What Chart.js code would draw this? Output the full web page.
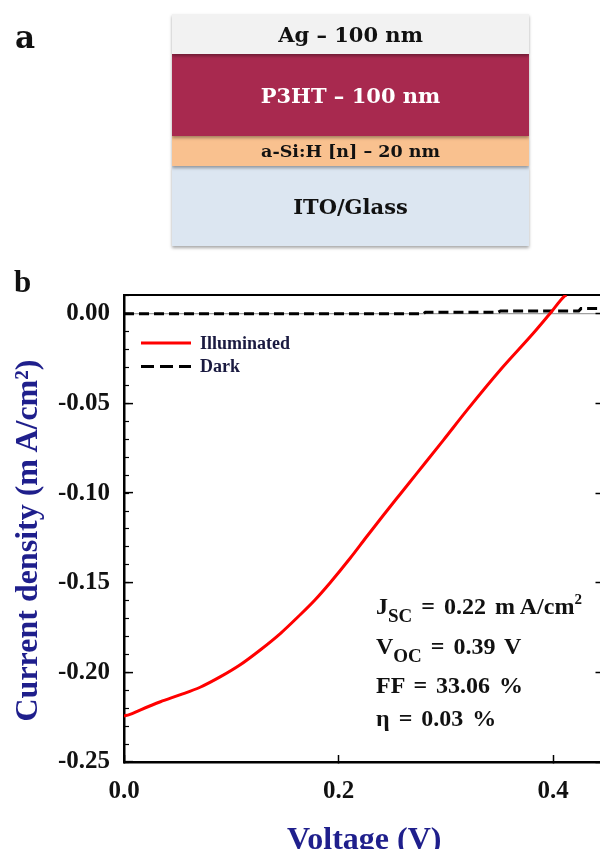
<!DOCTYPE html>
<html>
<head>
<meta charset="utf-8">
<script src="https://cdn.jsdelivr.net/npm/chart.js@4.4.0/dist/chart.umd.min.js"></script>
<style>
  html, body { margin:0; padding:0; background:#fff; width:600px; height:849px; overflow:hidden; }
  #page { position:absolute; left:0; top:0; width:600px; height:849px; overflow:hidden; }
  #c { position:absolute; left:0; top:0; }
  .panel { position:absolute; font-family:"Liberation Serif", serif; font-weight:bold; color:#111; }
  #labA { left:15px; top:22px; font-family:"DejaVu Serif", serif; font-size:31px; line-height:1; }
  #labB { left:14px; top:266px; font-size:31px; line-height:1; }
  .stack { position:absolute; left:172px; top:14px; width:357px; }
  .layer { position:relative; display:flex; align-items:center; justify-content:center;
           font-family:"DejaVu Serif", serif; font-weight:bold; box-shadow:0 2px 3px rgba(0,0,0,0.35); }
  #ag   { height:40px; background:#f2f2f2; color:#111; font-size:21px; z-index:4; }
  #p3ht { height:82px; background:#a8294f; color:#fff; font-size:21px; z-index:3; }
  #asi  { height:30px; background:#f9c18f; color:#111; font-size:17.5px; z-index:2; }
  #ito  { height:80px; background:#dce6f1; color:#111; font-size:21px; z-index:1; }
  .ann { position:absolute; left:376px; font-family:"Liberation Serif", serif; font-weight:bold;
         font-size:24px; line-height:1; color:#111; white-space:nowrap; word-spacing:3px; }
  .sub { position:relative; top:8px; font-size:19px; }
  .sup { position:relative; top:-10px; font-size:15px; }
</style>
</head>
<body>
<div id="page">
  <canvas id="c" width="612" height="870" style="width:612px;height:870px"></canvas>
  <div class="panel" id="labA">a</div>
  <div class="stack">
    <div class="layer" id="ag">Ag – 100 nm</div>
    <div class="layer" id="p3ht">P3HT – 100 nm</div>
    <div class="layer" id="asi">a-Si:H [n] – 20 nm</div>
    <div class="layer" id="ito">ITO/Glass</div>
  </div>
  <div class="panel" id="labB">b</div>
  <div class="ann" style="top:594px">J<span class="sub">SC</span> = 0.22 m&#8201;A/cm<span class="sup">2</span></div>
  <div class="ann" style="top:634px">V<span class="sub">OC</span> = 0.39 V</div>
  <div class="ann" style="top:673px">FF = 33.06 %</div>
  <div class="ann" style="top:706px">η = 0.03 %</div>
</div>
<script>
// ---- data ----
const voltIllum = [0.000, 0.005, 0.015, 0.034, 0.052, 0.071, 0.090, 0.108, 0.127, 0.146, 0.164, 0.178, 0.192, 0.211, 0.226, 0.242, 0.258, 0.273, 0.298, 0.320, 0.351, 0.382, 0.397, 0.411, 0.4125];
const jIllum    = [-0.2243, -0.2236, -0.2210, -0.2164, -0.2126, -0.2083, -0.2024, -0.1959, -0.1875, -0.1782, -0.1680, -0.1596, -0.1501, -0.1362, -0.1245, -0.1122, -0.1002, -0.0890, -0.0703, -0.0536, -0.0312, -0.0106, 0.0000, 0.0100, 0.0105];
const voltDark  = [0.000, 0.100, 0.200, 0.279, 0.281, 0.349, 0.351, 0.424, 0.426, 0.448];
const jDark     = [0.0000, 0.0000, 0.0000, 0.0000, 0.0009, 0.0009, 0.0016, 0.0016, 0.0029, 0.0029];
const seriesLabels = ['Illuminated', 'Dark'];
const xTickValues = [0.0, 0.2, 0.4];
const yTickValues = [-0.25, -0.20, -0.15, -0.10, -0.05, 0.00];

const toPoints = (xs, ys) => xs.map((x, i) => ({x: x, y: ys[i]}));

const X_MIN = 0, X_MAX = 0.448, Y_MIN = -0.25, Y_MAX = 0.0105;
const NAVY = '#1f1f8c';
const TICK_FONT = {family: '"Liberation Serif", serif', weight: 'bold', size: 25};

const insideLegend = {
  id: 'insideLegend',
  afterDatasetsDraw(chart, args, o) {
    const {ctx, chartArea} = chart;
    ctx.save();
    chart.data.datasets.forEach((ds, i) => {
      const y = chartArea.top + o.top + i * o.rowGap;
      const x = chartArea.left + o.left;
      ctx.beginPath();
      ctx.setLineDash(o.dashes[i] || []);
      ctx.strokeStyle = ds.borderColor;
      ctx.lineWidth = ds.borderWidth;
      ctx.moveTo(x, y);
      ctx.lineTo(x + o.lineLen, y);
      ctx.stroke();
      ctx.setLineDash([]);
      ctx.font = o.font;
      ctx.fillStyle = o.color;
      ctx.textBaseline = 'middle';
      ctx.textAlign = 'left';
      ctx.fillText(ds.label, x + o.lineLen + o.gap, y + 1);
    });
    ctx.restore();
  }
};

new Chart(document.getElementById('c'), {
  type: 'line',
  data: {
    datasets: [
      { label: seriesLabels[0], data: toPoints(voltIllum, jIllum), borderColor: '#ff0000', borderWidth: 3,
        pointRadius: 0, fill: false, cubicInterpolationMode: 'monotone', xAxisID: 'x', yAxisID: 'y' },
      { label: seriesLabels[1], data: toPoints(voltDark, jDark), borderColor: '#000000', borderWidth: 3,
        borderDash: [10, 5], pointRadius: 0, fill: false, tension: 0, xAxisID: 'x', yAxisID: 'y' }
    ]
  },
  options: {
    responsive: false,
    devicePixelRatio: 1,
    animation: false,
    layout: { padding: 0 },
    plugins: {
      legend: { display: false },
      tooltip: { enabled: false },
      insideLegend: { top: 48, left: 17, rowGap: 23.5, lineLen: 50, gap: 9, dashes: [[], [13, 6]],
                      font: 'bold 18px "Liberation Serif", serif', color: '#1a1a40' }
    },
    scales: {
      x: {
        type: 'linear', position: 'bottom', min: X_MIN, max: X_MAX,
        afterBuildTicks: s => { s.ticks = xTickValues.map(v => ({value: v})); },
        ticks: { callback: v => Number(v).toFixed(1), font: TICK_FONT, color: '#111', padding: 22, maxRotation: 0 },
        grid: { drawOnChartArea: false, drawTicks: true, tickLength: -7, tickColor: '#000', tickWidth: 1.5 },
        border: { display: true, color: '#000', width: 2.5 },
        title: { display: true, text: 'Voltage (V)', color: NAVY, padding: { top: 0, bottom: 10 },
                 font: { family: '"Liberation Serif", serif', weight: 'bold', size: 32 } },
        afterFit: s => { s.height = 108; }
      },
      xTop: {
        type: 'linear', position: 'top', min: X_MIN, max: X_MAX,
        ticks: { display: false },
        grid: { drawOnChartArea: false, drawTicks: false },
        border: { display: true, color: '#000', width: 2 },
        afterFit: s => { s.height = 295; }
      },
      y: {
        type: 'linear', position: 'left', weight: 1, min: Y_MIN, max: Y_MAX,
        afterBuildTicks: s => { s.ticks = yTickValues.map(v => ({value: v})); },
        ticks: { callback: v => Number(v).toFixed(2), font: TICK_FONT, color: '#111', padding: 23 },
        grid: { drawOnChartArea: true, drawTicks: true, tickLength: -9, tickColor: '#000', tickWidth: 1.5,
                color: c => (c.tick && Math.abs(c.tick.value) < 1e-9) ? '#a0a0a0' : 'rgba(0,0,0,0)', lineWidth: 1.2 },
        border: { display: true, color: '#000', width: 2.5 },
        title: { display: true, text: 'Current density (m\u2009A/cm\u00B2)   ', color: NAVY, padding: { top: 10, bottom: 0 },
                 font: { family: '"Liberation Serif", serif', weight: 'bold', size: 32 } },
        afterFit: s => { s.width = 124; }
      },
      yMinor: {
        type: 'linear', position: 'left', weight: 0, min: Y_MIN, max: Y_MAX,
        ticks: { display: false, stepSize: 0.01, includeBounds: false },
        grid: { drawOnChartArea: false, drawTicks: true, tickLength: -5, tickColor: '#000', tickWidth: 1.2 },
        border: { display: false },
        afterFit: s => { s.width = 0; }
      },
      yRight: {
        type: 'linear', position: 'right', min: Y_MIN, max: Y_MAX,
        afterBuildTicks: s => { s.ticks = yTickValues.map(v => ({value: v})); },
        ticks: { display: false },
        grid: { drawOnChartArea: false, drawTicks: true, tickLength: -9, tickColor: '#000', tickWidth: 1.5 },
        border: { display: true, color: '#000', width: 2 },
        afterFit: s => { s.width = 7.5; }
      }
    }
  },
  plugins: [insideLegend]
});
</script>
</body>
</html>
